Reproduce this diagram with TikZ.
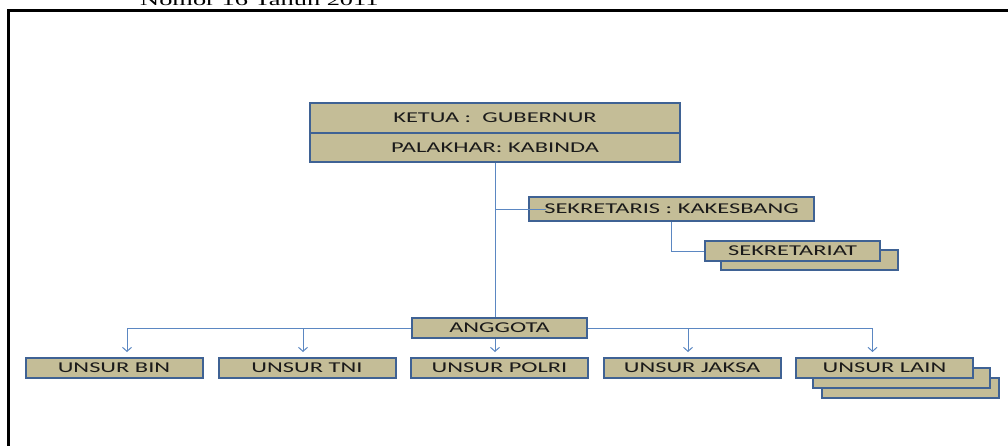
\documentclass[tikz,border=0pt]{standalone}
\usepackage{fontspec}
\setmainfont{Carlito}[FakeStretch=1.63]
\newfontfamily\titlefont{Liberation Serif}[FakeStretch=1.65]
\usepackage{tikz}
\usetikzlibrary{arrows.meta}
\definecolor{tan}{HTML}{C4BD97}
\definecolor{edge}{HTML}{3F6294}
\definecolor{wire}{HTML}{5B87C2}
\definecolor{ink}{HTML}{1A1A1A}

\begin{document}
\begin{tikzpicture}
    [x=1pt,y=-1pt,
      box/.style={rectangle,draw=edge,fill=tan,line width=2pt,inner sep=0pt,
        minimum width=177pt,minimum height=20pt,text=ink,
        font=\fontsize{15}{18}\selectfont},
      link/.style={draw=wire,line width=1pt},
      down/.style={link,-{Straight Barb[length=4pt,width=9pt]},shorten >=5pt}]
    \useasboundingbox (0,0) rectangle (1008,445);
    \clip (0,0) rectangle (1008,445);
    % page frame and heading
    \node[anchor=base west,inner sep=0pt,font=\titlefont\fontsize{16}{19}\selectfont]
      (title) at (140,5) {Nomor 16 Tahun 2011};
    \draw[line width=2.5pt] (8.7,470) -- (8.7,10.7) -- (1030,10.7);
    % top
    \node[box,minimum width=370pt,minimum height=30pt] (ketua) at (495,118) {KETUA :\ \ GUBERNUR};
    \node[box,minimum width=370pt,minimum height=29pt] (palakhar) at (495,147.5) {PALAKHAR: KABINDA};
    % secretary
    \node[box,minimum width=285pt,minimum height=24pt] (sekretaris) at (671.5,209) {SEKRETARIS : KAKESBANG};
    \node[box,minimum width=177pt] (sekretariat2) at (809.5,260) {};
    \node[box,minimum width=175pt] (sekretariat) at (792.5,251) {SEKRETARIAT};
    % members
    \node[box,minimum width=175pt] (anggota) at (499.5,328) {ANGGOTA};
    \node[box] (bin) at (114,368) {UNSUR BIN};
    \node[box] (tni) at (307,368) {UNSUR TNI};
    \node[box] (polri) at (499.5,368) {UNSUR POLRI};
    \node[box] (jaksa) at (692,368) {UNSUR JAKSA};
    \node[box] (lain3) at (910.5,388) {};
    \node[box] (lain2) at (901.5,378) {};
    \node[box] (lain) at (884.5,368) {UNSUR LAIN};
    % lines
    \coordinate (tap) at (palakhar.south |- sekretaris.west);
    \draw[link] (palakhar.south) -- (palakhar.south |- anggota.north);
    \draw[link] (tap) -- ([xshift=18pt]sekretaris.west);
    \draw[link] (sekretaris.south) |- (sekretariat.west);
    \draw[down] (anggota.west) -| ([xshift=13pt]bin.north);
    \draw[down] (anggota.west) -| ([xshift=-4pt]tni.north);
    \draw[down] (palakhar.south |- anggota.south) -- (palakhar.south |- polri.north);
    \draw[down] (anggota.east) -| ([xshift=-4pt]jaksa.north);
    \draw[down] (anggota.east) -| ([xshift=-12pt]lain.north);
\end{tikzpicture}
\end{document}
